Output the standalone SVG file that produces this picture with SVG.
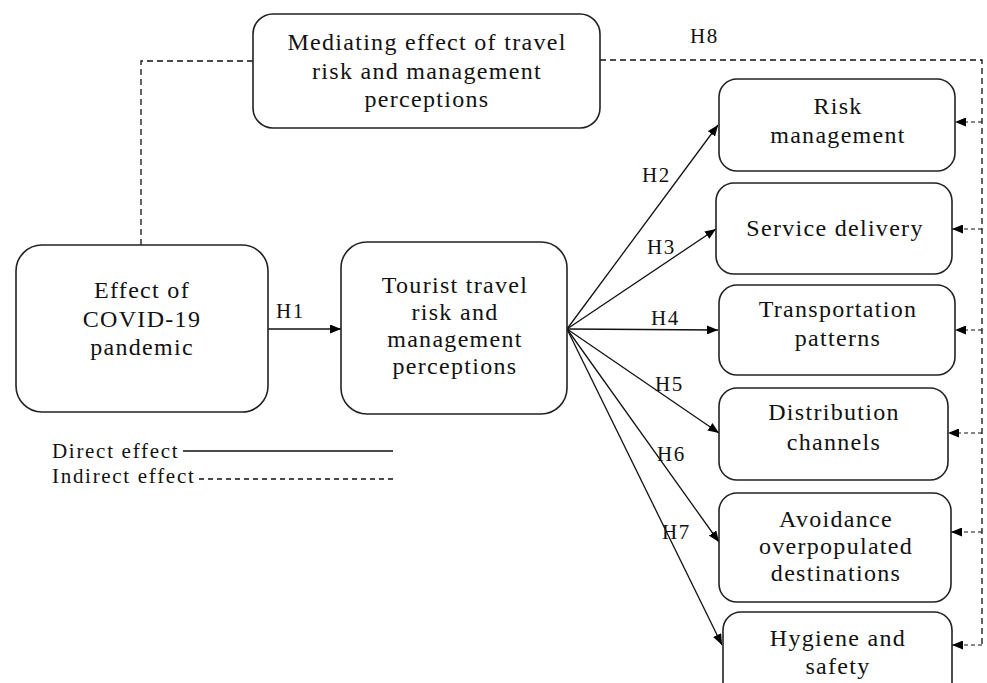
<svg xmlns="http://www.w3.org/2000/svg" width="987" height="683" viewBox="0 0 987 683">
<defs>
<marker id="ah" markerUnits="userSpaceOnUse" markerWidth="11" markerHeight="9" refX="11" refY="4.5" orient="auto">
<path d="M0,0 L11,4.5 L0,9 z" fill="#000"/>
</marker>
<style>
.box{fill:#fff;stroke:#222;stroke-width:1.6}
.t{font-family:"Liberation Serif","Times New Roman",serif;font-size:24px;letter-spacing:1.3px;fill:#111;text-anchor:middle}
.h{font-family:"Liberation Serif","Times New Roman",serif;font-size:21px;letter-spacing:1.5px;fill:#111}
.lg{font-family:"Liberation Serif","Times New Roman",serif;font-size:21px;letter-spacing:1.7px;fill:#111}
.solid{fill:none;stroke:#111;stroke-width:1.3}
.dash{fill:none;stroke:#111;stroke-width:1.3;stroke-dasharray:6 4}
.dash2{fill:none;stroke:#111;stroke-width:1.2;stroke-dasharray:4 3}
</style>
</defs>
<rect width="987" height="683" fill="#fff"/>

<g id="connectors">
<path class="dash" d="M253,61 H141 V245"/>
<path class="dash" d="M600,60 H982 V645"/>
<line class="solid" x1="267" y1="329" x2="341" y2="329" marker-end="url(#ah)"/>
<line class="solid" x1="567" y1="329" x2="718" y2="125" marker-end="url(#ah)"/>
<line class="solid" x1="567" y1="329" x2="716" y2="229" marker-end="url(#ah)"/>
<line class="solid" x1="567" y1="329" x2="718" y2="330" marker-end="url(#ah)"/>
<line class="solid" x1="567" y1="329" x2="719" y2="433" marker-end="url(#ah)"/>
<line class="solid" x1="567" y1="329" x2="719" y2="542" marker-end="url(#ah)"/>
<line class="solid" x1="567" y1="329" x2="722" y2="645" marker-end="url(#ah)"/>
<line class="dash2" x1="982" y1="122" x2="955" y2="122" marker-end="url(#ah)"/>
<line class="dash2" x1="982" y1="229" x2="952" y2="229" marker-end="url(#ah)"/>
<line class="dash2" x1="982" y1="330" x2="955" y2="330" marker-end="url(#ah)"/>
<line class="dash2" x1="982" y1="433" x2="948" y2="433" marker-end="url(#ah)"/>
<line class="dash2" x1="982" y1="532" x2="951" y2="532" marker-end="url(#ah)"/>
<line class="dash2" x1="982" y1="645" x2="952" y2="645" marker-end="url(#ah)"/>
<text class="h" x="276" y="318">H1</text>
<text class="h" x="642" y="182">H2</text>
<text class="h" x="647" y="254">H3</text>
<text class="h" x="651" y="325">H4</text>
<text class="h" x="655" y="391">H5</text>
<text class="h" x="657" y="461">H6</text>
<text class="h" x="662" y="539">H7</text>
<text class="h" x="690" y="43">H8</text>
</g>

<g id="mediating">
<rect class="box" x="253" y="14" width="347" height="114" rx="20"/>
<text class="t" x="427" y="50">Mediating effect of travel</text>
<text class="t" x="427" y="79">risk and management</text>
<text class="t" x="427" y="107">perceptions</text>
</g>

<g id="covid">
<rect class="box" x="16" y="245" width="252" height="167" rx="26"/>
<text class="t" x="142" y="298">Effect of</text>
<text class="t" x="142" y="327">COVID-19</text>
<text class="t" x="142" y="355">pandemic</text>
</g>

<g id="tourist">
<rect class="box" x="341" y="242" width="226" height="172" rx="26"/>
<text class="t" x="455" y="293">Tourist travel</text>
<text class="t" x="455" y="320">risk and</text>
<text class="t" x="455" y="347">management</text>
<text class="t" x="455" y="374">perceptions</text>
</g>

<g id="risk">
<rect class="box" x="719" y="79" width="236" height="92" rx="18"/>
<text class="t" x="838" y="114">Risk</text>
<text class="t" x="838" y="143">management</text>
</g>

<g id="service">
<rect class="box" x="716" y="183" width="236" height="91" rx="18"/>
<text class="t" x="835" y="236">Service delivery</text>
</g>

<g id="transport">
<rect class="box" x="719" y="285" width="236" height="90" rx="18"/>
<text class="t" x="838" y="317">Transportation</text>
<text class="t" x="838" y="346">patterns</text>
</g>

<g id="distribution">
<rect class="box" x="719" y="388" width="229" height="92" rx="18"/>
<text class="t" x="834" y="420">Distribution</text>
<text class="t" x="834" y="450">channels</text>
</g>

<g id="avoidance">
<rect class="box" x="719" y="493" width="232" height="109" rx="18"/>
<text class="t" x="836" y="527">Avoidance</text>
<text class="t" x="836" y="554">overpopulated</text>
<text class="t" x="836" y="581">destinations</text>
</g>

<g id="hygiene">
<rect class="box" x="723" y="612" width="229" height="100" rx="18"/>
<text class="t" x="838" y="646">Hygiene and</text>
<text class="t" x="838" y="674">safety</text>
</g>

<g id="legend">
<text class="lg" x="52" y="458">Direct effect</text>
<line class="solid" x1="183" y1="451" x2="393" y2="451"/>
<text class="lg" x="52" y="483">Indirect effect</text>
<line class="solid" x1="199" y1="479" x2="393" y2="479" stroke-dasharray="5 4"/>
</g>
</svg>
